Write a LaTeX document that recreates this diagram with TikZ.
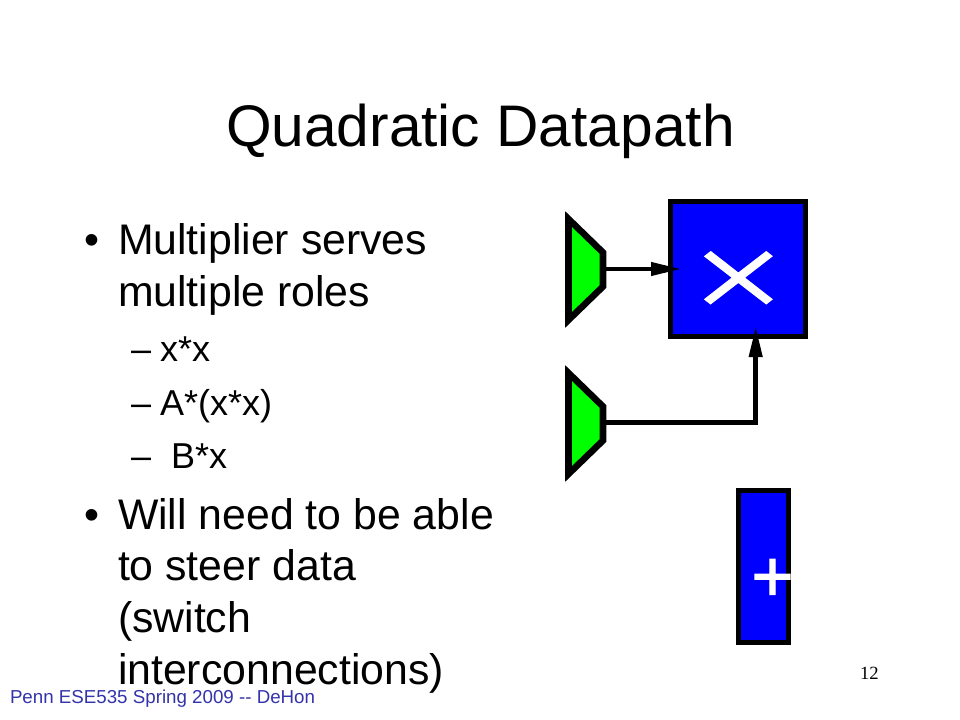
\documentclass[tikz,border=0pt]{standalone}
\usepackage{fontspec}
\setmainfont{Liberation Sans}
\newfontfamily\numfont{Liberation Serif}
\newfontfamily\plusfont[FakeBold=1.6]{Liberation Sans}
\newfontfamily\timesfont[FakeBold=0.8]{Liberation Serif}
\usetikzlibrary{arrows.meta}
\definecolor{muxgreen}{RGB}{0,255,0}
\definecolor{boxblue}{RGB}{0,0,255}
\definecolor{footblue}{RGB}{51,51,170}
\tikzset{
  txt/.style={anchor=base west,inner sep=0pt,outer sep=0pt,text=black},
  titletxt/.style={txt,font=\fontsize{44}{44}\selectfont},
  bodytxt/.style={txt,font=\fontsize{32.1}{32}\selectfont},
  subtxt/.style={txt,font=\fontsize{27}{28}\selectfont},
  foottxt/.style={txt,text=footblue,font=\fontsize{14.05}{14}\selectfont},
  numtxt/.style={txt,font=\numfont\fontsize{14}{14}\selectfont},
  opbox/.style={draw=black,fill=boxblue,line width=3.4pt,inner sep=0pt,outer sep=0pt},
  muxshape/.style={draw=black,fill=muxgreen,line width=4.9pt,line join=miter,miter limit=10},
  wire/.style={draw=black,line width=3.4pt,line join=miter,
    -{Triangle[length=21.75pt,width=10.7pt,line width=0pt]}},
  optxt/.style={inner sep=0pt,outer sep=0pt,text=white}
}
\begin{document}
\begin{tikzpicture}[x=0.75pt,y=-0.75pt]
\useasboundingbox (0,0) rectangle (960,720);
\fill[white] (0,0) rectangle (960,720);
% title
\node[titletxt] (title) at (226,147) {Quadratic Datapath};
% body
\node[bodytxt] (b1) at (84,255) {•};
\node[bodytxt] (l1) at (118,255) {Multiplier serves};
\node[bodytxt] (l2) at (118,306) {multiple roles};
\node[subtxt] (d1) at (131,361) {–};
\node[subtxt] (s1) at (160,361) {x*x};
\node[subtxt] (d2) at (131,415) {–};
\node[subtxt] (s2) at (160,415) {A*(x*x)};
\node[subtxt] (d3) at (131,468) {–};
\node[subtxt] (s3) at (171,468) {B*x};
\node[bodytxt] (b2) at (84,529) {•};
\node[bodytxt] (l3) at (118,529) {Will need to be able};
\node[bodytxt] (l4) at (118,580) {to steer data};
\node[bodytxt] (l5) at (118,632) {(switch};
\node[bodytxt] (l6) at (118,684) {interconnections)};
% footer
\node[foottxt] (foot) at (10,703) {Penn ESE535 Spring 2009 {-}{-} DeHon};
\node[numtxt] (num) at (860,679) {12};
% multiplier
\node[opbox,minimum width=101.25pt,minimum height=101.25pt] (mul) at (738,269) {};
\node[optxt] (times) at (738.3,286) {\scalebox{1.29}[1]{\timesfont\fontsize{96}{96}\selectfont ×}};
% adder
\node[opbox,minimum width=37.8pt,minimum height=114.3pt] (add) at (763.5,566.5) {};
\node[optxt] (plus) at (772.5,580) {\plusfont\fontsize{54}{54}\selectfont +};
% muxes
\draw[muxshape] (568.5,219) -- (603,252.5) -- (603,286.5) -- (568.5,320) -- cycle;
\draw[muxshape] (568.5,373) -- (603,406.5) -- (603,440.5) -- (568.5,474) -- cycle;
\coordinate (m1out) at (603,269);
\coordinate (m2out) at (603,422.5);
\coordinate (mulA) at (680,269);
\coordinate (mulB) at (755.7,328);
% connectors
\draw[wire] (m1out) -- (mulA);
\draw[wire] (m2out) -| (mulB);
\end{tikzpicture}
\end{document}
